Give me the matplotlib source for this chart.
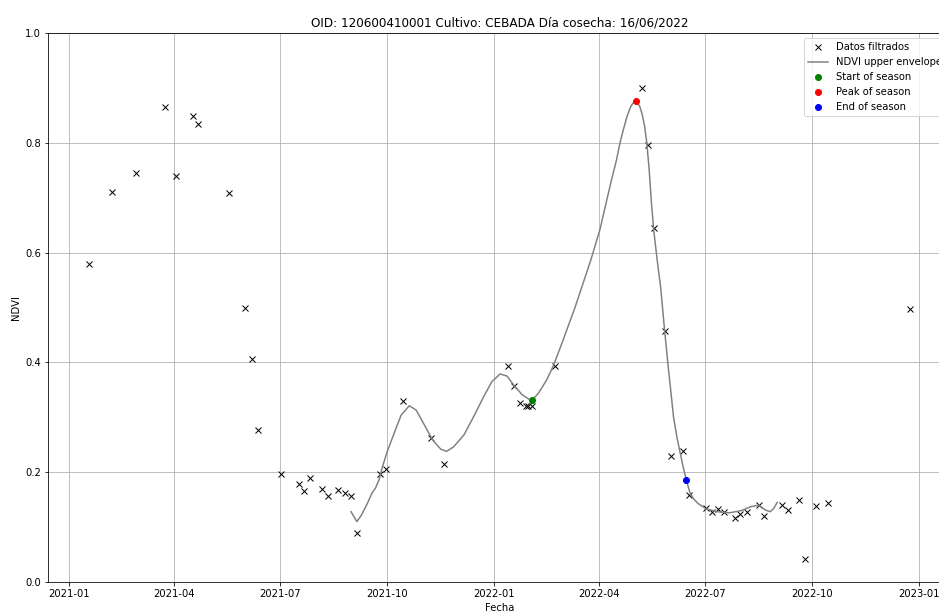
import matplotlib
matplotlib.use("Agg")
import matplotlib.pyplot as plt
import matplotlib.dates as mdates
import pandas as pd

# Filtered data (dates, NDVI)
obs_dates = [
    "2021-01-18", "2021-02-07", "2021-02-27", "2021-03-24", "2021-04-03", "2021-04-17",
    "2021-04-22", "2021-05-18", "2021-06-01", "2021-06-07", "2021-06-12", "2021-07-02",
    "2021-07-17", "2021-07-22", "2021-07-27", "2021-08-06", "2021-08-11", "2021-08-20",
    "2021-08-26", "2021-08-31", "2021-09-05", "2021-09-25", "2021-09-30", "2021-10-15",
    "2021-11-08", "2021-11-19", "2022-01-13", "2022-01-18", "2022-01-23", "2022-01-28",
    "2022-01-30", "2022-02-02", "2022-02-22", "2022-05-08", "2022-05-13", "2022-05-18",
    "2022-05-28", "2022-06-02", "2022-06-12", "2022-06-17", "2022-07-02", "2022-07-07",
    "2022-07-12", "2022-07-17", "2022-07-27", "2022-07-31", "2022-08-06", "2022-08-16",
    "2022-08-21", "2022-09-05", "2022-09-10", "2022-09-20", "2022-09-25", "2022-10-04",
    "2022-10-15", "2022-12-24",
]
obs_ndvi = [
    0.580, 0.710, 0.745, 0.865, 0.740, 0.848,
    0.834, 0.708, 0.500, 0.406, 0.276, 0.197,
    0.178, 0.166, 0.189, 0.169, 0.157, 0.168,
    0.163, 0.157, 0.089, 0.196, 0.206, 0.330,
    0.263, 0.215, 0.394, 0.357, 0.326, 0.321,
    0.321, 0.321, 0.394, 0.899, 0.796, 0.644,
    0.457, 0.230, 0.239, 0.158, 0.134, 0.127,
    0.133, 0.127, 0.116, 0.123, 0.127, 0.141,
    0.121, 0.140, 0.131, 0.149, 0.041, 0.138,
    0.144, 0.497,
]

# NDVI upper envelope
env_dates = [
    "2021-08-31", "2021-09-05", "2021-09-09", "2021-09-14", "2021-09-18", "2021-09-21",
    "2021-09-24", "2021-09-27", "2021-10-01", "2021-10-07", "2021-10-13", "2021-10-20",
    "2021-10-26", "2021-11-02", "2021-11-09", "2021-11-16", "2021-11-21", "2021-11-27",
    "2021-12-06", "2021-12-14", "2021-12-23", "2021-12-30", "2022-01-06", "2022-01-12",
    "2022-01-18", "2022-01-25", "2022-02-02", "2022-02-08", "2022-02-15", "2022-02-21",
    "2022-03-01", "2022-03-11", "2022-03-25", "2022-04-02", "2022-04-07", "2022-04-12",
    "2022-04-16", "2022-04-19", "2022-04-22", "2022-04-25", "2022-04-28", "2022-04-30",
    "2022-05-03", "2022-05-06", "2022-05-08", "2022-05-10", "2022-05-12", "2022-05-14",
    "2022-05-16", "2022-05-18", "2022-05-21", "2022-05-24", "2022-05-27", "2022-05-30",
    "2022-06-01", "2022-06-04", "2022-06-07", "2022-06-09", "2022-06-12", "2022-06-15",
    "2022-06-18", "2022-06-21", "2022-06-25", "2022-07-02", "2022-07-12", "2022-07-22",
    "2022-08-01", "2022-08-09", "2022-08-16", "2022-08-22", "2022-08-26", "2022-08-29",
    "2022-09-01",
]
env_ndvi = [
    0.128, 0.110, 0.122, 0.143, 0.162, 0.171,
    0.186, 0.210, 0.237, 0.271, 0.304, 0.321,
    0.313, 0.286, 0.259, 0.242, 0.238, 0.246,
    0.268, 0.300, 0.338, 0.365, 0.379, 0.375,
    0.358, 0.341, 0.330, 0.344, 0.368, 0.395,
    0.440, 0.498, 0.587, 0.644, 0.690, 0.735,
    0.769, 0.800, 0.825, 0.848, 0.865, 0.872,
    0.876, 0.866, 0.852, 0.832, 0.800, 0.752,
    0.690, 0.640, 0.585, 0.535, 0.465, 0.400,
    0.360, 0.300, 0.262, 0.242, 0.212, 0.185,
    0.163, 0.152, 0.143, 0.133, 0.128, 0.126,
    0.130, 0.137, 0.140, 0.131, 0.128, 0.134,
    0.145,
]

sos_date, sos_val = ["2022-02-02"], [0.331]
pos_date, pos_val = ["2022-05-03"], [0.876]
eos_date, eos_val = ["2022-06-15"], [0.186]

title = "OID: 120600410001 Cultivo: CEBADA Día cosecha: 16/06/2022"

W, H, DPI = 939, 611, 72
fig = plt.figure(figsize=(W / DPI, H / DPI), dpi=DPI)
ax = fig.add_axes([48 / W, (H - 582) / H, 903 / W, 549 / H])

ax.plot(pd.to_datetime(obs_dates), obs_ndvi, "x", color="k", label="Datos filtrados")
ax.plot(pd.to_datetime(env_dates), env_ndvi, "-", color="grey", lw=1.5,
        label="NDVI upper envelope")
ax.plot(pd.to_datetime(sos_date), sos_val, "o", color="green", label="Start of season")
ax.plot(pd.to_datetime(pos_date), pos_val, "o", color="red", label="Peak of season")
ax.plot(pd.to_datetime(eos_date), eos_val, "o", color="blue", label="End of season")

ax.set_ylim(0, 1.0)
ax.xaxis.set_major_locator(mdates.MonthLocator(bymonth=[1, 4, 7, 10]))
ax.xaxis.set_major_formatter(mdates.DateFormatter("%Y-%m"))
ax.grid(True)
ax.set_title(title, fontsize=12)
ax.set_xlabel("Fecha")
ax.set_ylabel("NDVI")
ax.legend(loc="upper right")

fig.savefig("out.png", dpi=DPI)
